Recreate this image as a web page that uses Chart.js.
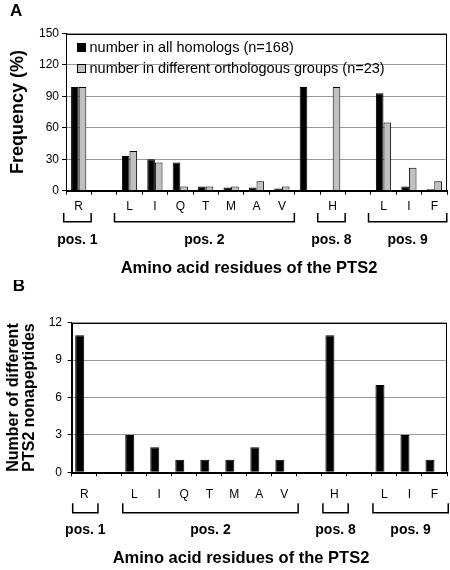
<!DOCTYPE html>
<html>
<head>
<meta charset="utf-8">
<script src="https://cdn.jsdelivr.net/npm/chart.js@4"></script>
<style>
html, body { margin: 0; padding: 0; background: #fff; }
#wrapA { position: absolute; left: 0; top: 0; width: 450px; height: 280px; }
#wrapB { position: absolute; left: 0; top: 280px; width: 450px; height: 290px; }
</style>
</head>
<body>
<div id="wrapA"><canvas id="chartA"></canvas></div>
<div id="wrapB"><canvas id="chartB"></canvas></div>
<script>
// residues along the x axis (empty slots are gaps in the original figure)
const categories = ['R', '', 'L', 'I', 'Q', 'T', 'M', 'A', 'V', '', 'H', '', 'L', 'I', 'F'];

// panel A, frequency (%)
const allHomologs = [99, null, 33, 30, 27, 4, 3, 3, 2, 99, null, null, 93, 4, 1.5];
const orthoGroups = [99, null, 38, 27, 4, 4, 4, 9, 4, null, 99, null, 65, 22, 9];

// panel B, number of different PTS2 nonapeptides
const nonapeptides = [11, null, 3, 2, 1, 1, 1, 2, 1, null, 11, null, 7, 3, 1];
const unusedSeries = [null, null, null, null, null, null, null, null, null, null, null, null, null, null, null];

const freqTicks = [0, 30, 60, 90, 120, 150];
const countTicks = [0, 3, 6, 9, 12];

// residue positions of the PTS2, as category index ranges
const positionLabels = ['pos. 1', 'pos. 2', 'pos. 8', 'pos. 9'];
const positionFrom = [0, 2, 10, 12];
const positionTo = [0, 8, 10, 14];

const X_TITLE = 'Amino acid residues of the PTS2';
const FONT = "'Liberation Sans', Arial, Helvetica, sans-serif";

const figurePlugin = {
  id: 'figure',
  afterDatasetsDraw(chart) {
    const {ctx, chartArea: a} = chart;
    ctx.save();
    ctx.strokeStyle = '#000';
    ctx.lineWidth = 1;
    ctx.strokeRect(Math.round(a.left) + 0.5, Math.round(a.top) + 0.5,
      Math.round(a.right - a.left) - 1, Math.round(a.bottom - a.top));
    ctx.restore();
  },
  afterDraw(chart, args, opts) {
    const {ctx, chartArea: a, scales: {x}} = chart;
    ctx.save();
    ctx.fillStyle = '#000';
    ctx.strokeStyle = '#000';

    // panel letter
    ctx.font = `bold 17px ${FONT}`;
    ctx.textAlign = 'left';
    ctx.textBaseline = 'middle';
    ctx.fillText(opts.letter, opts.letterX, opts.letterY);

    // brackets + position names
    ctx.lineWidth = 1.5;
    ctx.font = `bold 14px ${FONT}`;
    ctx.textAlign = 'center';
    const top = a.bottom + opts.bracketTop;
    const bot = a.bottom + opts.bracketBottom;
    positionLabels.forEach((lab, i) => {
      const x1 = x.getPixelForValue(positionFrom[i] + opts.startOff);
      const x2 = x.getPixelForValue(positionTo[i] + opts.endOff);
      ctx.beginPath();
      ctx.moveTo(x1, top);
      ctx.lineTo(x1, bot);
      ctx.lineTo(x2, bot);
      ctx.lineTo(x2, top);
      ctx.stroke();
      ctx.fillText(lab, (x1 + x2) / 2, a.bottom + opts.labelY);
    });

    // x axis title (sits a bit left of the plot centre in the original)
    ctx.font = `bold 16.5px ${FONT}`;
    ctx.fillText(X_TITLE, opts.titleX, a.bottom + opts.titleY);

    // legend inside the plot
    if (opts.legend) {
      ctx.font = `14.5px ${FONT}`;
      ctx.textAlign = 'left';
      ctx.lineWidth = 1;
      chart.data.datasets.forEach((ds, i) => {
        const cy = a.top + 14 + i * 21;
        ctx.fillStyle = ds.backgroundColor;
        ctx.fillRect(a.left + 11.5, cy - 4, 8, 8);
        ctx.strokeRect(a.left + 11.5, cy - 4, 8, 8);
        ctx.fillStyle = '#000';
        ctx.fillText(ds.label, a.left + 23.5, cy + 0.5);
      });
    }
    ctx.restore();
  }
};

function makeChart(id, datasets, cfg) {
  return new Chart(document.getElementById(id), {
    type: 'bar',
    data: { labels: categories, datasets },
    options: {
      responsive: true,
      maintainAspectRatio: false,
      animation: false,
      categoryPercentage: cfg.catPct,
      barPercentage: 1,
      layout: { padding: { top: cfg.top, right: 3, left: 0, bottom: 0 } },
      plugins: {
        legend: { display: false },
        tooltip: { enabled: false },
        figure: cfg.figure
      },
      scales: {
        x: {
          grid: { offset: true, drawOnChartArea: false, tickLength: 4, tickColor: '#000' },
          border: { color: '#000' },
          ticks: { color: '#000', padding: cfg.xPad, maxRotation: 0, autoSkip: false,
                   font: { family: FONT, size: 12 } },
          afterFit(s) { s.height = cfg.xHeight; }
        },
        y: {
          min: 0,
          max: cfg.yTicks[cfg.yTicks.length - 1],
          afterBuildTicks(s) { s.ticks = cfg.yTicks.map(v => ({ value: v })); },
          grid: { color: '#9a9a9a', tickLength: 4, tickColor: '#000' },
          border: { color: '#000' },
          ticks: { color: '#000', padding: cfg.yPad, font: { family: FONT, size: 12 } },
          title: { display: true, text: cfg.yTitle, color: '#000',
                   font: { family: FONT, size: cfg.yTitleSize, weight: 'bold', lineHeight: 1 },
                   padding: { top: cfg.yTitlePad, bottom: 0 } },
          afterFit(s) { s.width = cfg.yWidth; }
        }
      }
    },
    plugins: [figurePlugin]
  });
}

makeChart('chartA', [
  { label: 'number in all homologs (n=168)', data: allHomologs,
    backgroundColor: '#000', borderColor: '#000', borderWidth: 1 },
  { label: 'number in different orthologous groups (n=23)', data: orthoGroups,
    backgroundColor: '#c0c0c0', borderColor: '#000', borderWidth: 1 }
], {
  catPct: 0.6, top: 33.5, xPad: 5, xHeight: 89.3,
  yTicks: freqTicks, yPad: 3, yWidth: 66, yTitle: 'Frequency (%)', yTitleSize: 18, yTitlePad: 9,
  figure: { letter: 'A', letterX: 10, letterY: 11, legend: true, titleX: 249, titleY: 77.3,
            bracketTop: 22.3, bracketBottom: 31, labelY: 49.3, startOff: -0.59, endOff: 0.49 }
});

makeChart('chartB', [
  { label: 'number of different PTS2 nonapeptides', data: nonapeptides,
    backgroundColor: '#000', borderColor: '#000', borderWidth: 1 },
  { label: '', data: unusedSeries, backgroundColor: '#c0c0c0' }
], {
  catPct: 0.72, top: 42.7, xPad: 11, xHeight: 97.7,
  yTicks: countTicks, yPad: 5.7, yWidth: 71.7, yTitle: ['Number of different', 'PTS2 nonapeptides'],
  yTitleSize: 16, yTitlePad: 5.25,
  figure: { letter: 'B', letterX: 12.7, letterY: 6, legend: false, titleX: 241, titleY: 86,
            bracketTop: 31, bracketBottom: 40.4, labelY: 57.7, startOff: -0.46, endOff: 0.55 }
});
</script>
</body>
</html>
